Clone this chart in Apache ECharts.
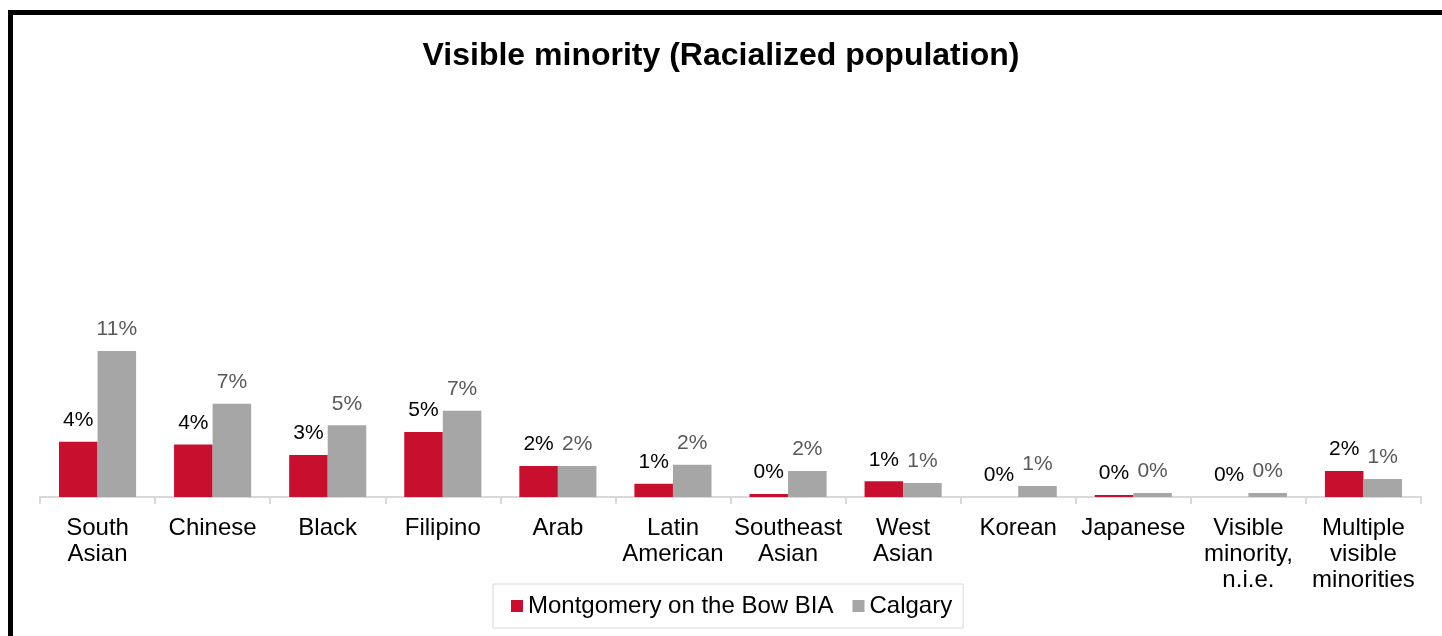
<!DOCTYPE html>
<html>
<head>
<meta charset="utf-8">
<script src="https://cdn.jsdelivr.net/npm/echarts@6/dist/echarts.min.js"></script>
<style>
  html, body { margin: 0; padding: 0; background: #fff; }
  #main { width: 1442px; height: 636px; }
</style>
</head>
<body>
<div id="main"></div>
<script>
// categories along the x axis
const categories = [
  'South\nAsian', 'Chinese', 'Black', 'Filipino', 'Arab', 'Latin\nAmerican',
  'Southeast\nAsian', 'West\nAsian', 'Korean', 'Japanese',
  'Visible\nminority,\nn.i.e.', 'Multiple\nvisible\nminorities'
];
// share of population, in percent
const montgomery = [4.2, 4.0, 3.2, 4.95, 2.35, 1.0, 0.23, 1.2, 0, 0.15, 0, 1.98];
const calgary = [11.1, 7.1, 5.45, 6.55, 2.35, 2.45, 1.98, 1.06, 0.84, 0.3, 0.3, 1.37];

const FONT = '"Liberation Sans", Arial, sans-serif';

const chart = echarts.init(document.getElementById('main'));

const labelFmt = function (p) {
  return Math.round(p.value) + '%';
};

chart.setOption({
  backgroundColor: '#fff',
  animation: false,
  title: {
    text: 'Visible minority (Racialized population)',
    left: 'center',
    top: 35,
    textStyle: {
      fontFamily: FONT,
      fontSize: 32,
      fontWeight: 'bold',
      color: '#000'
    }
  },
  legend: {
    left: 493,
    top: 584,
    padding: [10, 11, 10, 18],
    borderColor: '#D9D9D9',
    borderWidth: 1,
    icon: 'rect',
    itemWidth: 12,
    itemHeight: 12,
    itemGap: 19,
    textStyle: {
      fontFamily: FONT,
      fontSize: 24,
      color: '#000'
    },
    data: ['Montgomery on the Bow BIA', 'Calgary']
  },
  grid: {
    left: 40,
    right: 21,
    top: 234,
    bottom: 139
  },
  xAxis: {
    type: 'category',
    data: categories,
    axisLine: {
      lineStyle: { color: '#D9D9D9', width: 2 }
    },
    axisTick: {
      show: true,
      length: 7,
      lineStyle: { color: '#D9D9D9', width: 2 }
    },
    axisLabel: {
      interval: 0,
      margin: 18,
      fontFamily: FONT,
      fontSize: 24,
      lineHeight: 26,
      color: '#000'
    }
  },
  yAxis: {
    type: 'value',
    min: 0,
    max: 20,
    show: false,
    splitLine: { show: false }
  },
  series: [{
    name: 'Montgomery on the Bow BIA',
    type: 'bar',
    data: montgomery,
    barGap: '0%',
    barCategoryGap: '33%',
    itemStyle: { color: '#C8102E' },
    label: {
      show: true,
      position: 'top',
      distance: 11,
      formatter: labelFmt,
      fontFamily: FONT,
      fontSize: 21,
      color: '#000'
    }
  }, {
    name: 'Calgary',
    type: 'bar',
    data: calgary,
    barGap: '0%',
    barCategoryGap: '33%',
    itemStyle: { color: '#A6A6A6' },
    label: {
      show: true,
      position: 'top',
      distance: 11,
      formatter: labelFmt,
      fontFamily: FONT,
      fontSize: 21,
      color: '#595959'
    }
  }],
  graphic: [{
    type: 'line',
    shape: { x1: 8, y1: 12.5, x2: 1442, y2: 12.5 },
    style: { stroke: '#000', lineWidth: 5 }
  }, {
    type: 'line',
    shape: { x1: 10.5, y1: 10, x2: 10.5, y2: 636 },
    style: { stroke: '#000', lineWidth: 5 }
  }]
});

window.addEventListener('resize', function () {
  chart.resize();
});
</script>
</body>
</html>
